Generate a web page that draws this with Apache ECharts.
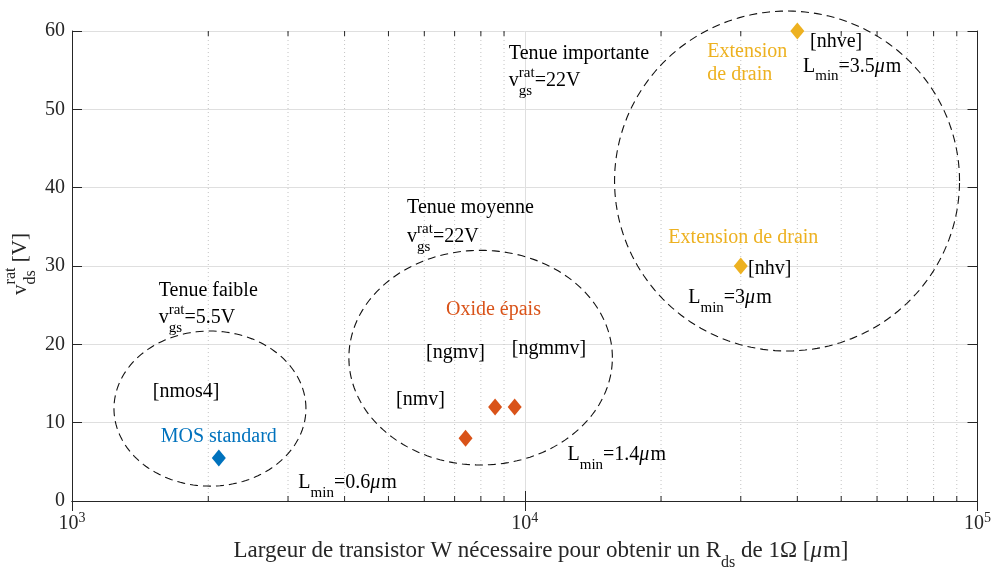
<!DOCTYPE html>
<html>
<head>
<meta charset="utf-8">
<script src="https://cdn.jsdelivr.net/npm/echarts@6/dist/echarts.min.js"></script>
<style>
html, body { margin: 0; background: #fff; }
#chart { width: 994px; height: 569px; }
</style>
</head>
<body>
<div id="chart"></div>
<script>
// axes
const xMin = 1000, xMax = 100000;
const yMin = 0, yMax = 60, yStep = 10;
const xMinorTicks = [2000, 3000, 4000, 5000, 6000, 7000, 8000, 9000,
                     20000, 30000, 40000, 50000, 60000, 70000, 80000, 90000];

// points [W, vds]
const standardPoints = [[2110, 5.5]];
const oxidePoints = [[7400, 8], [8600, 12], [9500, 12]];
const drainPoints = [[30000, 30], [40000, 60]];

// dashed ellipses: centre W, centre V, half width (decades), half height (V)
const ellipseCenterX = [2017, 7990, 37960];
const ellipseCenterY = [11.8, 18.3, 40.85];
const ellipseRadiusX = [0.212, 0.291, 0.381];
const ellipseRadiusY = [9.9, 13.7, 21.7];

// annotations (anchor = left edge, middle of main text line)
const noteText = [
    'Tenue importante', 'v^{rat}_{gs}=22V', 'Extension', 'de drain', '[nhve]', 'L_{min}=3.5μm',
    'Tenue moyenne', 'v^{rat}_{gs}=22V', 'Oxide épais', '[ngmv]', '[ngmmv]', '[nmv]', 'L_{min}=1.4μm',
    'Extension de drain', '[nhv]', 'L_{min}=3μm',
    'Tenue faible', 'v^{rat}_{gs}=5.5V', '[nmos4]', 'MOS standard', 'L_{min}=0.6μm'
];
const noteX = [9222, 9222, 25300, 25300, 42660, 41170,
               5496, 5496, 6699, 6053, 9363, 5198, 12430,
               20760, 31140, 22970,
               1554, 1554, 1508, 1570, 3162];
const noteY = [57.1, 53.6, 57.3, 54.4, 58.6, 55.5,
               37.5, 33.7, 24.4, 18.9, 19.4, 12.9, 5.9,
               33.6, 29.6, 25.9,
               26.9, 23.4, 13.9, 8.2, 2.3];
const noteColor = ['#000', '#000', '#EDB120', '#EDB120', '#000', '#000',
                   '#000', '#000', '#D95319', '#000', '#000', '#000', '#000',
                   '#EDB120', '#000', '#000',
                   '#000', '#000', '#000', '#0072BD', '#000'];

const FONT = '"Liberation Serif", "Times New Roman", serif';
const AXIS_COLOR = '#262626';

const measureCtx = document.createElement('canvas').getContext('2d');
const fontOf = (size, italic) => (italic ? 'italic ' : '') + size + 'px ' + FONT;
const textWidth = (s, size, italic) => {
    measureCtx.font = fontOf(size, italic);
    return measureCtx.measureText(s).width;
};

// splits 'v^{rat}_{gs}=22V' into pieces, stacking ^ and _ on the same spot; μ is set italic
const texPieces = (str, size, scriptSize) => {
    const supDy = -Math.round(size * 0.42), subDy = Math.round(size * 0.52);
    const parts = str.match(/\^\{[^}]*\}|_\{[^}]*\}|[^^_]+/g);
    const out = [];
    let x = 0, scriptStart = null, scriptEnd = 0;
    parts.forEach(p => {
        if (p[0] === '^' || p[0] === '_') {
            const t = p.slice(2, -1);
            if (scriptStart === null) { scriptStart = x; scriptEnd = x; }
            out.push({ t: t, x: scriptStart, dy: p[0] === '^' ? supDy : subDy, size: scriptSize });
            scriptEnd = Math.max(scriptEnd, scriptStart + textWidth(t, scriptSize));
            x = scriptEnd;
        } else {
            scriptStart = null;
            p.split(/(μ)/).filter(s => s).forEach(s => {
                const it = s === 'μ';
                out.push({ t: s, x: x, dy: 0, size: size, italic: it });
                x += textWidth(s, size, it) + (it ? 1 : 0);
            });
        }
    });
    return { pieces: out, width: x };
};

const texChildren = (str, color, ox, oy, size, scriptSize, centred) => {
    const lay = texPieces(str, size, scriptSize);
    const shift = centred ? -lay.width / 2 : 0;
    return lay.pieces.map(pc => ({
        type: 'text',
        x: ox + shift + pc.x,
        y: oy + pc.dy,
        style: { text: pc.t, fill: color, font: fontOf(pc.size, pc.italic), align: 'left', verticalAlign: 'middle' }
    }));
};

const chart = echarts.init(document.getElementById('chart'));

const yLabel = 'v^{rat}_{ds} [V]';
const xLabel = 'Largeur de transistor W nécessaire pour obtenir un R_{ds} de 1Ω [μm]';

const diamond = { symbol: 'diamond', symbolSize: [14, 17], z: 5, clip: false };

const option = {
    animation: false,
    grid: { left: 72, right: 14, top: 31, bottom: 68 },
    xAxis: [{
        type: 'log', min: xMin, max: xMax, splitNumber: 2,
        axisLine: { lineStyle: { color: AXIS_COLOR, width: 1 } },
        axisTick: { inside: true, length: 10, lineStyle: { color: AXIS_COLOR } },
        axisLabel: {
            color: AXIS_COLOR, fontFamily: FONT, fontSize: 20, margin: 10,
            formatter: v => '10{sup|' + Math.round(Math.log10(v)) + '}',
            rich: { sup: { fontSize: 14, fontFamily: FONT, color: AXIS_COLOR, padding: [0, 0, 12, 0] } }
        },
        splitLine: { show: true, lineStyle: { color: '#dfdfdf' } }
    }, {
        type: 'log', min: xMin, max: xMax, splitNumber: 2, position: 'top',
        axisLine: { lineStyle: { color: AXIS_COLOR, width: 1 } },
        axisTick: { inside: true, length: 10, lineStyle: { color: AXIS_COLOR } },
        axisLabel: { show: false },
        splitLine: { show: false }
    }],
    yAxis: [{
        type: 'value', min: yMin, max: yMax, interval: yStep,
        axisLine: { show: true, lineStyle: { color: AXIS_COLOR, width: 1 } },
        axisTick: { show: true, inside: true, length: 10, lineStyle: { color: AXIS_COLOR } },
        axisLabel: { color: AXIS_COLOR, fontFamily: FONT, fontSize: 20, margin: 7 },
        splitLine: { show: true, lineStyle: { color: '#dfdfdf' } }
    }, {
        type: 'value', min: yMin, max: yMax, interval: yStep, position: 'right',
        axisLine: { show: true, lineStyle: { color: AXIS_COLOR, width: 1 } },
        axisTick: { show: true, inside: true, length: 10, lineStyle: { color: AXIS_COLOR } },
        axisLabel: { show: false },
        splitLine: { show: false }
    }],
    graphic: [{
        type: 'group', x: 20, y: 264, rotation: Math.PI / 2,
        children: texChildren(yLabel, AXIS_COLOR, 0, 0, 21, 16, true)
    }, {
        type: 'group', x: 541, y: 551,
        children: texChildren(xLabel, AXIS_COLOR, 0, 0, 23, 16, true)
    }],
    series: [
        {
            // minor x grid + minor ticks
            type: 'custom', z: 1, silent: true, clip: false,
            data: xMinorTicks.map(v => [v, yMin]),
            renderItem: (params, api) => {
                const b = api.coord([api.value(0), yMin]);
                const t = api.coord([api.value(0), yMax]);
                const tick = { stroke: AXIS_COLOR, lineWidth: 1 };
                return {
                    type: 'group',
                    children: [
                        { type: 'line', shape: { x1: b[0], y1: b[1], x2: t[0], y2: t[1] },
                          style: { stroke: '#c4c4c4', lineWidth: 1, lineDash: [1, 3] } },
                        { type: 'line', shape: { x1: b[0], y1: b[1], x2: b[0], y2: b[1] - 5 }, style: tick },
                        { type: 'line', shape: { x1: t[0], y1: t[1], x2: t[0], y2: t[1] + 5 }, style: tick }
                    ]
                };
            }
        },
        {
            type: 'custom', z: 3, silent: true, clip: false,
            data: ellipseCenterX.map((x, i) => [x, ellipseCenterY[i], i]),
            renderItem: (params, api) => {
                const i = api.value(2);
                const pts = [];
                for (let k = 0; k <= 180; k++) {
                    const a = k / 180 * 2 * Math.PI;
                    const w = Math.pow(10, Math.log10(ellipseCenterX[i]) + ellipseRadiusX[i] * Math.cos(a));
                    const v = ellipseCenterY[i] + ellipseRadiusY[i] * Math.sin(a);
                    pts.push(api.coord([w, v]));
                }
                return {
                    type: 'polyline', shape: { points: pts },
                    style: { fill: null, stroke: '#111', lineWidth: 1.1, lineDash: [8, 5] }
                };
            }
        },
        {
            type: 'custom', z: 4, silent: true, clip: false,
            data: noteX.map((x, i) => [x, noteY[i], i]),
            renderItem: (params, api) => {
                const i = api.value(2);
                const p = api.coord([api.value(0), api.value(1)]);
                return { type: 'group', children: texChildren(noteText[i], noteColor[i], p[0], p[1], 20, 15, false) };
            }
        },
        Object.assign({ name: 'MOS standard', type: 'scatter',
            itemStyle: { color: '#0072BD', opacity: 1 }, data: standardPoints }, diamond),
        Object.assign({ name: 'Oxide épais', type: 'scatter',
            itemStyle: { color: '#D95319', opacity: 1 }, data: oxidePoints }, diamond),
        Object.assign({ name: 'Extension de drain', type: 'scatter',
            itemStyle: { color: '#EDB120', opacity: 1 }, data: drainPoints }, diamond)
    ]
};

chart.setOption(option);
</script>
</body>
</html>
